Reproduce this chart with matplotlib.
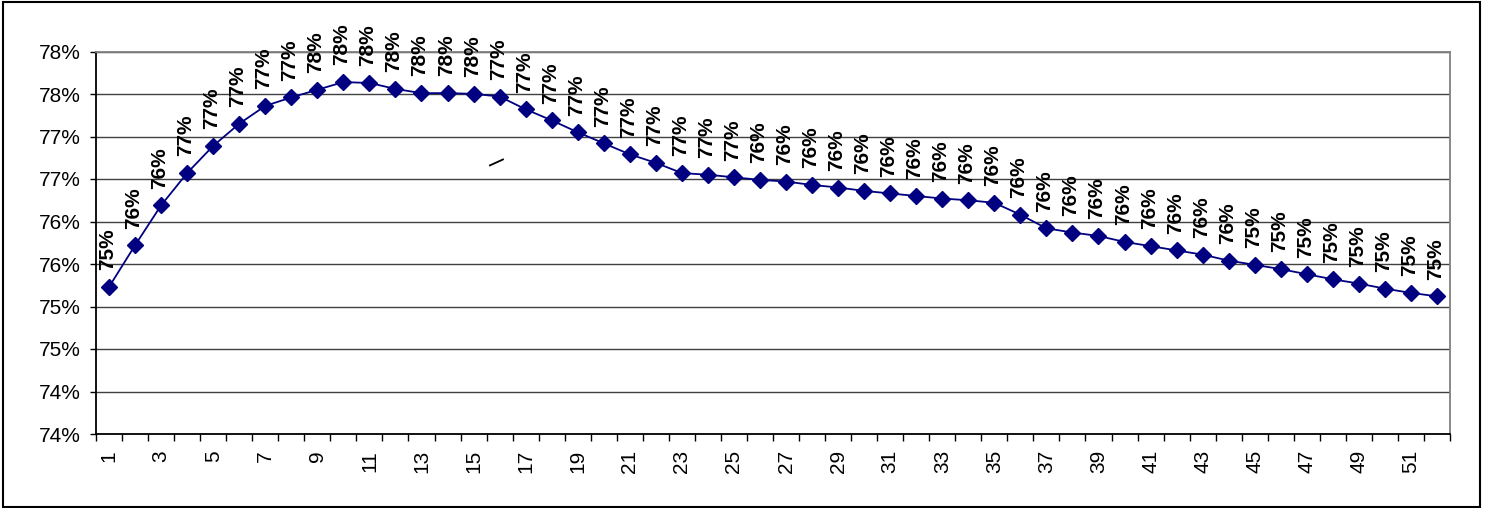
import math
import numpy as np
import matplotlib
matplotlib.use("Agg")
import matplotlib.pyplot as plt
from matplotlib.ticker import FixedLocator, FuncFormatter
from matplotlib.patches import Rectangle

# ---- data ----
weeks = list(range(1, 53))
values = [
    0.7523, 0.7572, 0.7619, 0.7657, 0.7689, 0.7715, 0.7736, 0.7746, 0.7755, 0.7764,
    0.7763, 0.7756, 0.7751, 0.7751, 0.77502, 0.7747, 0.7732, 0.7719, 0.7705, 0.7692,
    0.7679, 0.7669, 0.7657, 0.7655, 0.7652, 0.7649, 0.7647, 0.7643, 0.7640, 0.7636,
    0.7633, 0.7630, 0.7627, 0.7625, 0.7622, 0.7608, 0.7592, 0.7587, 0.7583, 0.7576,
    0.7571, 0.7566, 0.7561, 0.7554, 0.7549, 0.7544, 0.7538, 0.7532, 0.7527, 0.7521,
    0.7516, 0.7512,
]
y_ticks = [0.735, 0.740, 0.745, 0.750, 0.755, 0.760, 0.765, 0.770, 0.775, 0.780]
x_label_weeks = list(range(1, 53, 2))
stray_x = [15.63, 16.13]
stray_y = [0.7666, 0.7673]

LINE_COLOR = "#000080"


def pct(v):
    return f"{int(math.floor(v * 100 + 0.5 + 1e-9))}%"


plt.rcParams['font.family'] = ['Liberation Sans', 'DejaVu Sans']

W, H = 1487, 508
fig = plt.figure(figsize=(W / 100, H / 100), dpi=100)
L, R, T, B = 96, 1450, 51.5, 434
ax = fig.add_axes([L / W, 1 - B / H, (R - L) / W, (B - T) / H])

ax.plot(weeks, values, color=LINE_COLOR, lw=1.3, marker='D', ms=8,
        mec=LINE_COLOR, mfc=LINE_COLOR, zorder=3, clip_on=False)

for x, v in zip(weeks, values):
    ax.annotate(pct(v), (x, v), xytext=(-1, 12), textcoords='offset points',
                rotation=90, ha='center', va='bottom', fontsize=15,
                fontweight='bold', color='black', annotation_clip=False)

# stray tick mark visible in the reference
ax.plot(stray_x, stray_y, color='black', lw=1.3, zorder=2)

ax.set_xlim(0.5, 52.5)
ax.set_ylim(y_ticks[0], y_ticks[-1])

ax.yaxis.set_major_locator(FixedLocator(y_ticks))
ax.yaxis.set_major_formatter(FuncFormatter(lambda v, p: pct(v)))
ax.tick_params(axis='y', which='major', direction='out', length=4.3, width=1,
               pad=7, labelsize=15, colors='black')

ax.set_xticks(x_label_weeks)
ax.set_xticklabels([str(w) for w in x_label_weeks], rotation=90)
ax.set_xticks(np.arange(0.5, 53, 1), minor=True)
ax.tick_params(axis='x', which='major', length=0, pad=11.5, labelsize=15)
ax.tick_params(axis='x', which='minor', direction='out', length=5, width=1)

ax.yaxis.grid(True, color='#404040', lw=1.0)
ax.set_axisbelow(True)

for side in ('left', 'bottom'):
    ax.spines[side].set_color('black')
    ax.spines[side].set_linewidth(1.3)
for side in ('top', 'right'):
    ax.spines[side].set_color('#808080')
    ax.spines[side].set_linewidth(1.3)

fig.patches.append(Rectangle((3 / W, 1 - 507 / H), (1480 - 3) / W, (507 - 2) / H,
                             transform=fig.transFigure, fill=False,
                             ec='black', lw=1.5))

fig.savefig('out.png', dpi=100)
